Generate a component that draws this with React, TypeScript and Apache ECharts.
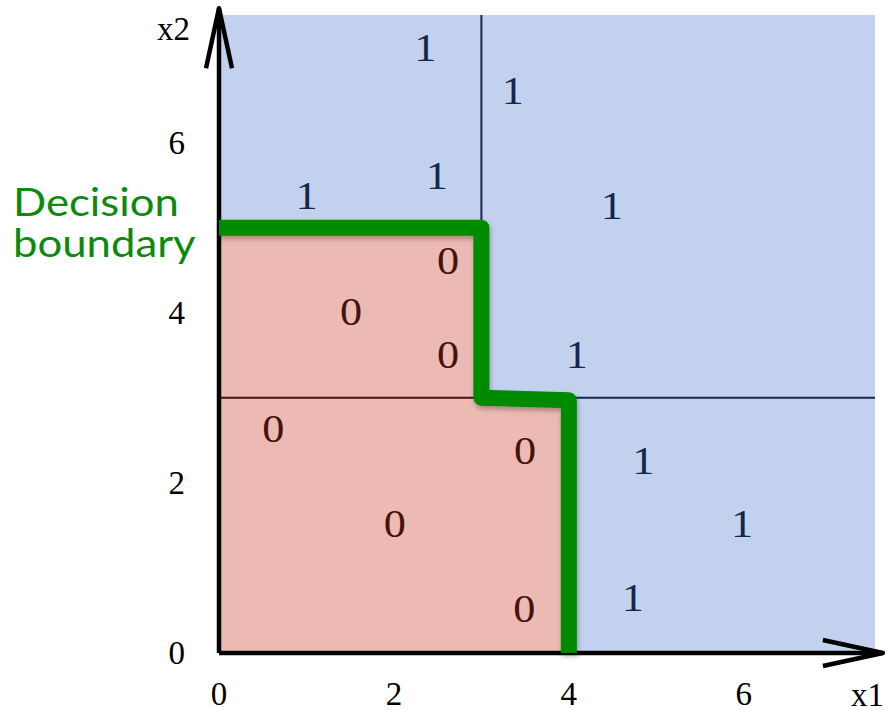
import React, { useEffect, useRef } from "react";
import * as echarts from "echarts";

// ---- data ----
const X_RANGE = [0, 7.5];
const Y_RANGE = [0, 7.5];
const TICK_VALUES = [0, 2, 4, 6];
const AXIS_NAMES = ["x1", "x2"];
const ANNOTATION = ["Decision", "boundary"];

// decision regions [x0, y0, x1, y1]
const REGIONS_ONE = [[0, 0, 7.5, 7.5]];
const REGIONS_ZERO = [
  [0, 3, 3, 5],
  [0, 0, 4, 3],
];

// tree split lines [x0, y0, x1, y1]
const SPLITS_ONE = [
  [3, 5, 3, 7.5],
  [4, 3, 7.5, 3],
];
const SPLITS_ZERO = [
  [0, 3, 3, 3],
  [0, 0, 0, 5],
];

// labelled samples [x1, x2]
const POINTS_ONE = [
  [2.36, 7.12],
  [3.36, 6.62],
  [2.49, 5.62],
  [1.0, 5.38],
  [4.49, 5.27],
  [4.09, 3.51],
  [4.85, 2.27],
  [5.98, 1.53],
  [4.73, 0.66],
];
const POINTS_ZERO = [
  [2.62, 4.62],
  [1.51, 4.02],
  [2.62, 3.51],
  [0.62, 2.64],
  [3.5, 2.39],
  [2.01, 1.53],
  [3.49, 0.53],
];

const BOUNDARY = [
  [0, 5],
  [3, 5],
  [3, 3],
  [4, 2.97],
  [4, 0],
];

// axis arrows [x0, y0, x1, y1]
const AXES = [
  [0, 0, 0, 7.58],
  [0, 0, 7.59, 0],
];

// ---- styles ----
const BLUE = "#c2d2ee";
const RED = "#ecbab2";
const NAVY = "#16254c";
const MAROON = "#45120e";
const GREEN = "#008a00";
const SERIF = '"Liberation Serif", "Times New Roman", serif';

function rectItem(fill: string) {
  return (params: any, api: any) => {
    const p0 = api.coord([api.value(0), api.value(1)]);
    const p1 = api.coord([api.value(2), api.value(3)]);
    return {
      type: "rect",
      shape: {
        x: Math.min(p0[0], p1[0]),
        y: Math.min(p0[1], p1[1]),
        width: Math.abs(p1[0] - p0[0]),
        height: Math.abs(p1[1] - p0[1]),
      },
      style: { fill },
    };
  };
}

function lineItem(stroke: string) {
  return (params: any, api: any) => {
    const p0 = api.coord([api.value(0), api.value(1)]);
    const p1 = api.coord([api.value(2), api.value(3)]);
    return {
      type: "line",
      shape: { x1: p0[0], y1: p0[1], x2: p1[0], y2: p1[1] },
      style: { stroke, lineWidth: 2 },
    };
  };
}

function textItem(label: string, fill: string) {
  return (params: any, api: any) => {
    const p = api.coord([api.value(0), api.value(1)]);
    return {
      type: "text",
      x: p[0],
      y: p[1],
      scaleX: 1.08,
      style: {
        text: label,
        fill,
        font: `41px ${SERIF}`,
        align: "center",
        verticalAlign: "middle",
      },
    };
  };
}

function arrowItem(params: any, api: any) {
  const p0 = api.coord([api.value(0), api.value(1)]);
  const p1 = api.coord([api.value(2), api.value(3)]);
  const dx = p1[0] - p0[0];
  const dy = p1[1] - p0[1];
  const len = Math.sqrt(dx * dx + dy * dy) || 1;
  const ux = dx / len;
  const uy = dy / len;
  const nx = -uy;
  const ny = ux;
  const back = 60;
  const half = 13;
  const w1 = [p1[0] - ux * back + nx * half, p1[1] - uy * back + ny * half];
  const w2 = [p1[0] - ux * back - nx * half, p1[1] - uy * back - ny * half];
  const style = { stroke: "#000", lineWidth: 4.5, fill: null, lineJoin: "round" };
  return {
    type: "group",
    children: [
      { type: "line", shape: { x1: p0[0], y1: p0[1], x2: p1[0], y2: p1[1] }, style },
      { type: "polyline", shape: { points: [w1, p1, w2] }, style },
    ],
  };
}

export default function App() {
  const ref = useRef<HTMLDivElement>(null);

  useEffect(() => {
    if (!ref.current) return;
    const chart = echarts.init(ref.current, null, { renderer: "svg" });
    const axisCommon = {
      type: "value",
      interval: 2,
      axisLine: { show: false },
      axisTick: { show: false },
      splitLine: { show: false },
    };
    const labelFormatter = (v: number) => (TICK_VALUES.includes(v) ? String(v) : "");
    chart.setOption({
      animation: false,
      backgroundColor: "#ffffff",
      grid: { left: 219, right: 14, top: 15, bottom: 57, containLabel: false },
      xAxis: {
        ...axisCommon,
        min: X_RANGE[0],
        max: X_RANGE[1],
        axisLabel: {
          formatter: labelFormatter,
          showMaxLabel: false,
          fontFamily: SERIF,
          fontSize: 33,
          color: "#000",
          margin: 24,
        },
      },
      yAxis: {
        ...axisCommon,
        min: Y_RANGE[0],
        max: Y_RANGE[1],
        axisLabel: {
          formatter: labelFormatter,
          showMaxLabel: false,
          fontFamily: SERIF,
          fontSize: 33,
          color: "#000",
          margin: 34,
        },
      },
      graphic: [
        {
          type: "text",
          x: 157,
          y: 29,
          style: { text: AXIS_NAMES[1], font: `33px ${SERIF}`, fill: "#000", align: "left", verticalAlign: "middle" },
        },
        {
          type: "text",
          x: 851,
          y: 695,
          style: { text: AXIS_NAMES[0], font: `33px ${SERIF}`, fill: "#000", align: "left", verticalAlign: "middle" },
        },
        {
          type: "text",
          x: 13,
          y: 202,
          scaleX: 1.15,
          style: { text: ANNOTATION[0], font: '38px Lato, "Open Sans", sans-serif', fill: "#0b8a0b", align: "left", verticalAlign: "middle" },
        },
        {
          type: "text",
          x: 13,
          y: 243,
          scaleX: 1.15,
          style: { text: ANNOTATION[1], font: '38px Lato, "Open Sans", sans-serif', fill: "#0b8a0b", align: "left", verticalAlign: "middle" },
        },
      ],
      series: [
        { type: "custom", name: "region1", data: REGIONS_ONE, renderItem: rectItem(BLUE), z: 1, silent: true },
        { type: "custom", name: "region0", data: REGIONS_ZERO, renderItem: rectItem(RED), z: 2, silent: true },
        { type: "custom", name: "split1", data: SPLITS_ONE, renderItem: lineItem(NAVY), z: 3, silent: true },
        { type: "custom", name: "split0", data: SPLITS_ZERO, renderItem: lineItem(MAROON), z: 3, silent: true },
        { type: "custom", name: "class1", data: POINTS_ONE, renderItem: textItem("1", NAVY), z: 4, silent: true },
        { type: "custom", name: "class0", data: POINTS_ZERO, renderItem: textItem("0", MAROON), z: 4, silent: true },
        { type: "custom", name: "axes", data: AXES, renderItem: arrowItem, z: 5, silent: true },
        {
          type: "line",
          name: "boundary",
          data: BOUNDARY,
          symbol: "none",
          z: 6,
          silent: true,
          lineStyle: {
            color: GREEN,
            width: 16,
            join: "round",
            cap: "butt",
            shadowColor: "rgba(0,0,0,0.3)",
            shadowBlur: 5,
            shadowOffsetX: 1,
            shadowOffsetY: 3,
          },
        },
      ],
    });
    return () => chart.dispose();
  }, []);

  return (
    <div
      ref={ref}
      style={{ position: "absolute", left: 0, top: 0, width: 889, height: 710, background: "#fff" }}
    />
  );
}
